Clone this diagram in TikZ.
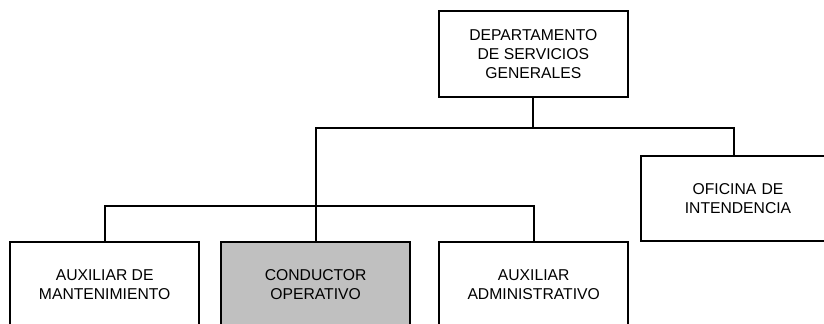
\documentclass[tikz,border=0pt]{standalone}
\usepackage{fontspec}
\setsansfont{Liberation Sans}
\usetikzlibrary{positioning,calc}
\definecolor{boxgray}{HTML}{C0C0C0}

\begin{document}
\begin{tikzpicture}[font=\sffamily\fontsize{13.4}{16.2}\selectfont,line width=1.7pt,unit/.style={draw=black,line width=1.7pt,align=center,minimum width=5.67cm,minimum height=2.58cm,inner sep=2pt},shaded/.style={unit,fill=boxgray}]
 \useasboundingbox (0,0) rectangle (24.72,9.69);
 \clip (0,0) rectangle (24.72,9.69);
 \node[unit] (dep) at (16.0,8.06) {DEPARTAMENTO\\DE SERVICIOS\\GENERALES};
 \node[unit,minimum width=5.8cm,minimum height=2.55cm,text width=5.4cm] (ofi) at (22.14,3.73) {OFICINA DE\\INTENDENCIA};
 \node[unit] (mant) at (3.14,1.14) {AUXILIAR DE\\MANTENIMIENTO};
 \node[shaded,right=0.6cm of mant] (cond) {CONDUCTOR\\OPERATIVO};
 \node[unit,right=0.81cm of cond] (adm) {AUXILIAR\\ADMINISTRATIVO};
 % bus heights
 \coordinate (b1) at (0,5.85);
 \coordinate (b2) at (0,3.51);
 \draw (dep.south) -- (dep.south |- b1);
 \draw (cond.north) -- (cond.north |- b1) -| ($(ofi.north)+(-0.12,0)$);
 \draw (mant.north) |- (adm.north |- b2) -- (adm.north);
\end{tikzpicture}
\end{document}
